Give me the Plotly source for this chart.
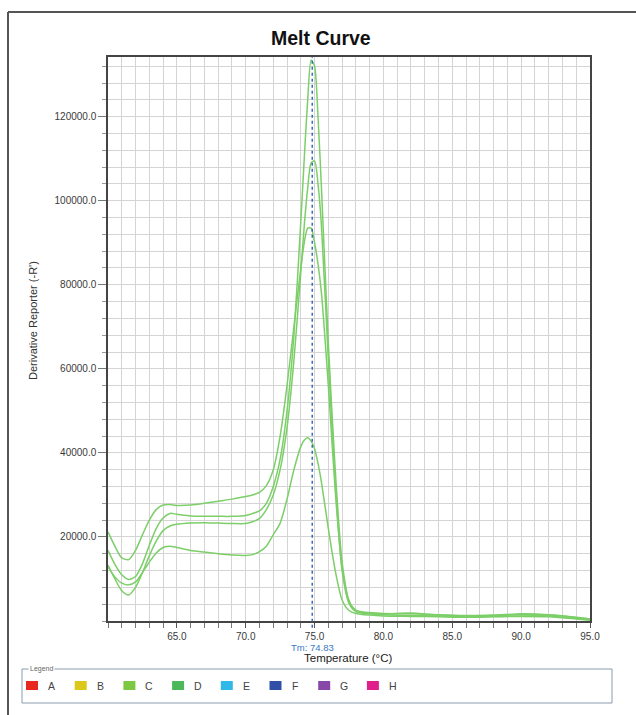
import plotly.graph_objects as go

# ---------------- data ----------------
temps = [60, 60.5, 61, 61.5, 62, 62.5, 63, 63.5, 64, 64.5, 65, 66, 67, 68, 69, 70, 70.5, 71, 71.5,
         72, 72.5, 73, 73.5, 74, 74.25, 74.5, 74.75, 75, 75.25, 75.5, 76, 76.5, 77, 77.5, 78, 79,
         80, 82, 84, 86, 88, 90, 92, 94, 95]

well_1 = [21200, 17800, 15000, 14600, 16800, 20500, 24000, 26500, 27600, 27700, 27500, 27600, 28000,
          28500, 29000, 29600, 30000, 30600, 32200, 36000, 44000, 56000, 70000, 84000, 90000, 93500,
          93500, 90000, 85000, 78000, 56000, 31000, 12500, 4800, 2600, 2000, 1800, 1700, 1500, 1300,
          1400, 1700, 1500, 800, 400]
well_2 = [16800, 13500, 11000, 9900, 10600, 13600, 18000, 22000, 24500, 25600, 25400, 25000, 24900,
          24900, 24900, 25100, 25600, 26200, 28000, 32000, 38500, 50000, 68000, 95000, 110000, 124000,
          133500, 132000, 120000, 103000, 66000, 36000, 14000, 4800, 2300, 1700, 1500, 1300, 1200,
          1100, 1100, 1200, 1200, 600, 300]
well_3 = [13300, 10000, 7200, 6200, 8000, 11500, 15500, 19000, 21500, 22600, 23000, 23300, 23400,
          23300, 23200, 23200, 23600, 24400, 26500, 30000, 36000, 46000, 62000, 83000, 94000, 103000,
          109000, 109500, 104000, 94000, 62000, 33000, 12000, 4200, 2300, 1900, 1700, 1900, 1400,
          1200, 1300, 1500, 1400, 900, 500]
well_4 = [12900, 10500, 9000, 8600, 9300, 11500, 14000, 16200, 17500, 17800, 17500, 16800, 16400,
          16000, 15700, 15600, 15800, 16500, 17800, 20500, 23300, 29000, 36000, 41500, 43000, 43600,
          42800, 41000, 37500, 33000, 22000, 12000, 5000, 2500, 1800, 1400, 1200, 1100, 1000, 900,
          1000, 1100, 1000, 500, 200]

tm_value = 74.83
y_tick_values = [20000, 40000, 60000, 80000, 100000, 120000]
x_tick_values = [65, 70, 75, 80, 85, 90, 95]
legend_labels = ["A", "B", "C", "D", "E", "F", "G", "H"]
legend_colors = ["#e8281e", "#dcc81a", "#7cc840", "#4cb85a", "#30b8e8", "#3050a8", "#8848a8", "#e0208a"]

# ---------------- layout geometry (pixels) ----------------
W, H = 636, 715
PL, PR, PT, PB = 108, 590, 57, 621
FONT = "Liberation Sans, Arial, sans-serif"


def px(x):
    return (x - PL) / (PR - PL)


def py(y):
    return (PB - y) / (PB - PT)


fig = go.Figure()
for vals in [well_4, well_3, well_1, well_2]:
    fig.add_trace(go.Scatter(
        x=temps, y=vals, mode="lines",
        line=dict(color="#7ccf68", width=1.5, shape="spline", smoothing=0.7),
        showlegend=False, hoverinfo="skip"))

axis_font = dict(family=FONT, size=10, color="#3a3a3a")

fig.update_xaxes(
    range=[60, 95], tickvals=x_tick_values, tickformat=".1f", ticks="outside", ticklen=5,
    tickcolor="#555555", tickfont=axis_font, showgrid=True, gridcolor="#d4d4d4", gridwidth=1,
    minor=dict(dtick=1, tick0=60, showgrid=True, gridcolor="#d4d4d4", ticks="outside", ticklen=5,
               tickcolor="#777777"),
    showline=True, linecolor="#444444", linewidth=1.5, mirror=True, zeroline=False)
fig.update_yaxes(
    range=[0, 134200], tickvals=y_tick_values, tickformat=".1f", ticks="outside", ticklen=8,
    tickcolor="#777777", tickfont=axis_font, showgrid=True, gridcolor="#d4d4d4", gridwidth=1,
    minor=dict(dtick=4000, tick0=0, showgrid=True, gridcolor="#d4d4d4", ticks="outside", ticklen=4,
               tickcolor="#999999"),
    showline=True, linecolor="#444444", linewidth=1.5, mirror=True, zeroline=False)

shapes = []
# Tm marker line
shapes.append(dict(type="line", xref="x", yref="paper", x0=tm_value, x1=tm_value, y0=-0.012, y1=1,
                   line=dict(color="#2e62b4", width=1.4, dash="dot")))
# outer frame (left + top)
shapes.append(dict(type="line", xref="paper", yref="paper", x0=px(8), x1=px(8), y0=py(12), y1=py(715),
                   line=dict(color="#555555", width=2)))
shapes.append(dict(type="line", xref="paper", yref="paper", x0=px(8), x1=px(636), y0=py(12), y1=py(12),
                   line=dict(color="#555555", width=2)))
# legend box
shapes.append(dict(type="rect", xref="paper", yref="paper", x0=px(22), x1=px(612), y0=py(703), y1=py(669),
                   line=dict(color="#8a9aac", width=1), fillcolor="rgba(0,0,0,0)"))
annotations = []
annotations.append(dict(xref="paper", yref="paper", x=px(28), y=py(669), text="Legend", showarrow=False,
                        xanchor="left", yanchor="middle", bgcolor="white",
                        font=dict(family=FONT, size=7, color="#666666")))
for i, (lab, col) in enumerate(zip(legend_labels, legend_colors)):
    sx = 26 + i * 48.7
    shapes.append(dict(type="rect", xref="paper", yref="paper", x0=px(sx), x1=px(sx + 12),
                       y0=py(690), y1=py(681), line=dict(width=0), fillcolor=col))
    annotations.append(dict(xref="paper", yref="paper", x=px(sx + 20), y=py(686), text=lab,
                            showarrow=False, xanchor="left", yanchor="middle",
                            font=dict(family=FONT, size=10.5, color="#444444")))

# title
annotations.append(dict(xref="paper", yref="paper", x=px(321), y=py(38), text="<b>Melt Curve</b>",
                        showarrow=False, xanchor="center", yanchor="middle",
                        font=dict(family=FONT, size=19.5, color="#111111")))
# Tm label
annotations.append(dict(xref="x", yref="paper", x=tm_value, y=py(647), text="Tm: 74.83",
                        showarrow=False, xanchor="center", yanchor="middle",
                        font=dict(family=FONT, size=9.5, color="#3a78c8")))
# x axis title
annotations.append(dict(xref="paper", yref="paper", x=px(394), y=py(658), text="Temperature (°C)",
                        showarrow=False, xanchor="right", yanchor="middle",
                        font=dict(family=FONT, size=11.5, color="#222222")))
# y axis title
annotations.append(dict(xref="paper", yref="paper", x=px(33), y=py(321), text="Derivative Reporter (-R')",
                        showarrow=False, xanchor="center", yanchor="middle", textangle=-90,
                        font=dict(family=FONT, size=11, color="#333333")))

fig.update_layout(
    width=W, height=H, autosize=False,
    margin=dict(l=PL, r=W - PR, t=PT, b=H - PB, pad=0),
    paper_bgcolor="white", plot_bgcolor="white",
    shapes=shapes, annotations=annotations, showlegend=False)

fig.write_html("out.html", config={"displayModeBar": False},
               post_script="document.body.style.margin='0';")
